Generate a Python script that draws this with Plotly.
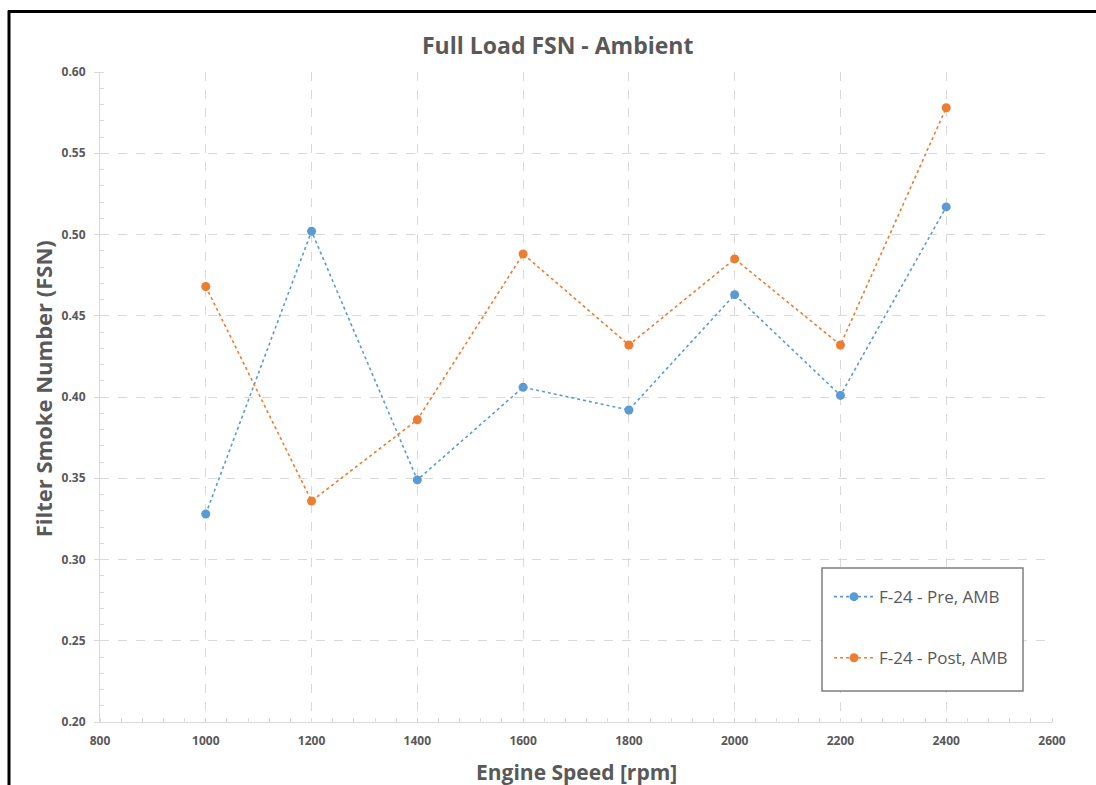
import plotly.graph_objects as go

# Engine speed sweep and full-load smoke readings
speed_rpm = [1000, 1200, 1400, 1600, 1800, 2000, 2200, 2400]
fsn_pre = [0.328, 0.502, 0.349, 0.406, 0.392, 0.463, 0.401, 0.517]
fsn_post = [0.468, 0.336, 0.386, 0.488, 0.432, 0.485, 0.432, 0.578]
series_names = ["F-24 - Pre, AMB", "F-24 - Post, AMB"]
x_ticks = [800, 1000, 1200, 1400, 1600, 1800, 2000, 2200, 2400, 2600]
y_ticks = [0.20, 0.25, 0.30, 0.35, 0.40, 0.45, 0.50, 0.55, 0.60]

BLUE = "#5B9BD5"
ORANGE = "#ED7D31"
TEXT = "#595959"
GRID = "#D9D9D9"
FONT = "Open Sans"

W, H = 1096, 785
L, R, T, B = 100, 44, 71.5, 63
pw, ph = W - L - R, H - T - B


def px_x(p):
    return (p - L) / pw


def px_y(q):
    return (H - B - q) / ph


fig = go.Figure()
for vals, name, col in [(fsn_pre, series_names[0], BLUE), (fsn_post, series_names[1], ORANGE)]:
    fig.add_trace(go.Scatter(
        x=speed_rpm, y=vals, name=name, mode="lines+markers", legendgroup=name,
        line=dict(color=col, width=1.6, dash="dot"),
        marker=dict(color=col, size=9, symbol="circle"),
    ))

fig.update_layout(
    width=W, height=H,
    margin=dict(l=L, r=R, t=T, b=B),
    paper_bgcolor="white", plot_bgcolor="white",
    font=dict(family=FONT, color=TEXT),
    showlegend=True,
    legend=dict(
        x=px_x(829), y=px_y(579), xanchor="left", yanchor="top",
        bgcolor="rgba(0,0,0,0)", borderwidth=0,
        font=dict(family=FONT, size=17, color=TEXT),
        tracegroupgap=36, itemwidth=40,
    ),
)

fig.update_xaxes(
    range=[800, 2600], tickvals=x_ticks,
    ticktext=[str(v) for v in x_ticks],
    tickfont=dict(family=FONT, size=12, color=TEXT, weight="bold"),
    showline=True, linecolor=GRID, linewidth=1,
    showgrid=True, gridcolor=GRID, griddash="dash", gridwidth=1,
    ticks="", zeroline=False, ticklabelstandoff=8,
    minor=dict(dtick=40, ticks="inside", ticklen=4, tickcolor=GRID, showgrid=False),
)
fig.update_yaxes(
    range=[0.20, 0.60], tickvals=y_ticks,
    ticktext=[f"{v:.2f}" for v in y_ticks],
    tickfont=dict(family=FONT, size=12, color=TEXT, weight="bold"),
    showline=True, linecolor=GRID, linewidth=1,
    showgrid=True, gridcolor=GRID, griddash="dash", gridwidth=1,
    ticks="outside", ticklen=5, tickcolor=GRID, zeroline=False, ticklabelstandoff=6,
    minor=dict(dtick=0.01, ticks="inside", ticklen=4, tickcolor=GRID, showgrid=False),
)

# Title and axis titles
fig.add_annotation(
    text="<b>Full Load FSN - Ambient</b>", xref="paper", yref="paper",
    x=px_x(557), y=px_y(44), xanchor="center", yanchor="middle", showarrow=False,
    font=dict(family=FONT, size=23, color=TEXT),
)
fig.add_annotation(
    text="<b>Engine Speed [rpm]</b>", xref="paper", yref="paper",
    x=px_x(576), y=px_y(772), xanchor="center", yanchor="middle", showarrow=False,
    font=dict(family=FONT, size=21, color=TEXT),
)
fig.add_annotation(
    text="<b>Filter Smoke Number (FSN)</b>", xref="paper", yref="paper",
    x=px_x(43), y=px_y(389), xanchor="center", yanchor="middle", showarrow=False,
    textangle=-90, font=dict(family=FONT, size=22, color=TEXT),
)

# Legend box drawn behind the legend entries
fig.add_shape(
    type="rect", xref="paper", yref="paper",
    x0=px_x(822), x1=px_x(1023), y0=px_y(691), y1=px_y(568),
    line=dict(color="#7F7F7F", width=1.5), fillcolor="white", layer="above",
)

# Outer frame: top and left edges of the chart border, kept inside the figure
fig.add_shape(
    type="line", xref="paper", yref="paper",
    x0=px_x(8), x1=px_x(W), y0=px_y(11), y1=px_y(11),
    line=dict(color="black", width=3), layer="above",
)
fig.add_shape(
    type="line", xref="paper", yref="paper",
    x0=px_x(9), x1=px_x(9), y0=px_y(10), y1=px_y(H),
    line=dict(color="black", width=3), layer="above",
)

# Keep the page from scrolling so the figure fills the window exactly
page_css = (
    "document.documentElement.style.overflow='hidden';"
    "document.body.style.margin='0';"
    "document.body.style.overflow='hidden';"
)
fig.write_html("out.html", post_script=page_css)
